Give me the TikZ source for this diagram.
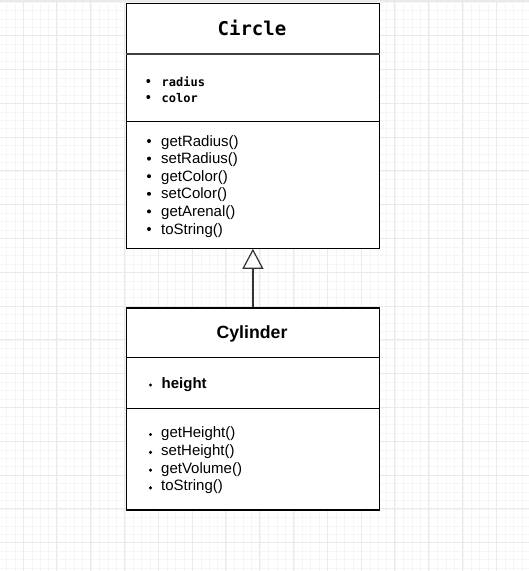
\documentclass[tikz,border=0pt]{standalone}
\usepackage{fontspec}
\setmainfont{Liberation Sans}
\newfontfamily\monofnt{DejaVu Sans Mono}
\usetikzlibrary{arrows.meta}
\definecolor{gridminor}{HTML}{F5F5F5}
\definecolor{gridmajor}{HTML}{EAEAEA}
\definecolor{edgegray}{HTML}{333333}
\tikzset{
  umlbox/.style={draw=black, line width=1.3pt, fill=white, inner sep=0pt},
  divider/.style={draw=black, line width=1.2pt},
  meth/.style={anchor=base west, inner sep=0pt, font=\fontsize{15}{15}\selectfont},
  attr/.style={anchor=base west, inner sep=0pt, font=\monofnt\bfseries\fontsize{12}{12}\selectfont},
}
\begin{document}
\begin{tikzpicture}[x=1pt,y=-1pt]
\useasboundingbox (0,0) rectangle (529,571);
\fill[white] (0,0) rectangle (529,571);
% grid
\foreach \i in {0,...,70} {
  \draw[gridminor, line width=0.7pt] ({-10.35+8.45*\i},0) -- ({-10.35+8.45*\i},571);
  \draw[gridminor, line width=0.7pt] (0,{2.0+8.45*\i}) -- (529,{2.0+8.45*\i});
}
\foreach \i in {0,...,16} {
  \draw[gridmajor, line width=0.9pt] ({23+33.8*\i},0) -- ({23+33.8*\i},571);
  \draw[gridmajor, line width=0.9pt] (0,{35.7+33.8*\i}) -- (529,{35.7+33.8*\i});
}
\fill[gridmajor] (0,0) rectangle (529,2);

% Circle class
\node[umlbox, minimum width=253.5pt, minimum height=244.5pt, anchor=north west] (circle) at (125.5,3) {};
\draw[line width=2.2pt, draw=black!75] (circle.west |- 0,54) -- (circle.east |- 0,54);
\draw[divider] (circle.west |- 0,121.5) -- (circle.east |- 0,121.5);
\node[anchor=base, inner sep=0pt, font=\monofnt\bfseries\fontsize{19}{19}\selectfont] (ctitle) at (252,35) {Circle};
\foreach \t/\y [count=\k] in {radius/86, color/102} {
  \fill (148.3,\y-5) circle (2pt);
  \node[attr] (cattr\k) at (161.5,\y) {\t};
}
\foreach \t/\y [count=\k] in {getRadius()/146, setRadius()/163.6, getColor()/181.2, setColor()/198.8, getArenal()/216.4, toString()/234} {
  \fill (149,\y-5) circle (2pt);
  \node[meth] (cm\k) at (161,\y) {\t};
}

% Cylinder class
\node[umlbox, minimum width=253.5pt, minimum height=202pt, anchor=north west] (cyl) at (125.5,307.3) {};
\draw[divider] (cyl.west |- 0,357.3) -- (cyl.east |- 0,357.3);
\draw[divider] (cyl.west |- 0,408.3) -- (cyl.east |- 0,408.3);
\node[anchor=base, inner sep=0pt, font=\bfseries\fontsize{17.7}{17.7}\selectfont] (cytitle) at (252,338) {Cylinder};
\fill (150.5,385) circle (1.7pt);
\node[meth, font=\bfseries\fontsize{15}{15}\selectfont] (cyattr1) at (161.5,388) {height};
\foreach \t/\y [count=\k] in {getHeight()/437.5, setHeight()/455.3, getVolume()/473.1, toString()/490.9} {
  \fill (150.5,\y-3) circle (1.7pt);
  \node[meth] (cym\k) at (161,\y) {\t};
}

% inheritance
\draw[edgegray, line width=1.2pt, -{Triangle[open, width=21pt, length=20pt, line width=1.2pt]}] (cyl.north) -- (circle.south);
\end{tikzpicture}
\end{document}
